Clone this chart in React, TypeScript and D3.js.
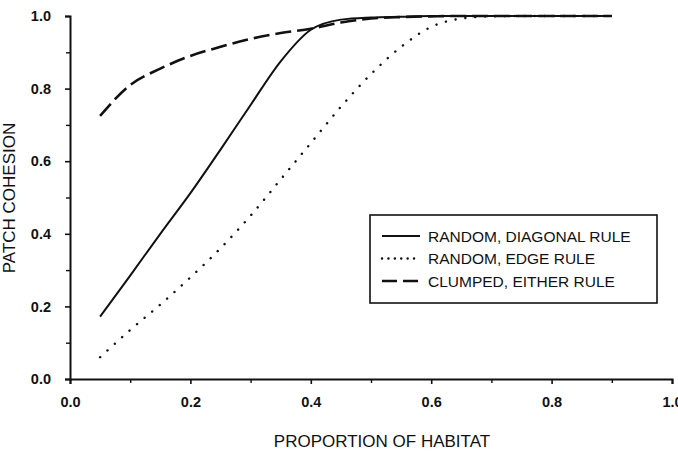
import React, { useEffect, useRef } from "react";
import {
  scaleLinear,
  line,
  curveMonotoneX,
  axisBottom,
  axisLeft,
  format,
  select
} from "d3";

// proportion of habitat on the landscape
const proportion = [
  0.05, 0.1, 0.15, 0.2, 0.25, 0.3, 0.35, 0.4, 0.45,
  0.5, 0.55, 0.6, 0.65, 0.7, 0.75, 0.8, 0.85, 0.9
];

const randomDiagonal = [
  0.172, 0.285, 0.4, 0.512, 0.632, 0.755, 0.875, 0.962, 0.99,
  0.996, 0.998, 1.0, 1.0, 1.0, 1.0, 1.0, 1.0, 1.0
];

const randomEdge = [
  0.06, 0.135, 0.205, 0.28, 0.36, 0.45, 0.55, 0.65, 0.75,
  0.84, 0.915, 0.97, 0.993, 0.999, 1.0, 1.0, 1.0, 1.0
];

const clumpedEither = [
  0.725, 0.81, 0.855, 0.89, 0.915, 0.937, 0.953, 0.965, 0.982,
  0.993, 0.997, 0.999, 1.0, 1.0, 1.0, 1.0, 1.0, 1.0
];

const majorTicks = [0, 0.2, 0.4, 0.6, 0.8, 1.0];
const minorTicks = [0.1, 0.3, 0.5, 0.7, 0.9];

const seriesNames = [
  "RANDOM, DIAGONAL RULE",
  "RANDOM, EDGE RULE",
  "CLUMPED, EITHER RULE"
];

const FONT = "'Liberation Sans', Arial, sans-serif";

export default function App() {
  const width = 678,
    height = 452;

  const xAxisRef = useRef(null);
  const yAxisRef = useRef(null);
  const xMinorRef = useRef(null);
  const yMinorRef = useRef(null);

  const xScale = scaleLinear().domain([0, 1]).range([70, 672]);
  const yScale = scaleLinear().domain([0, 1]).range([379, 16]);

  const series = [randomDiagonal, randomEdge, clumpedEither];
  const styles = [
    { width: 2, dash: null, cap: "butt" },
    { width: 2.4, dash: "0.1,9.8", cap: "round" },
    { width: 2.6, dash: "16,6", cap: "butt" }
  ];

  const pathFor = (values: number[]) =>
    line<number>()
      .x((_, i) => xScale(proportion[i]))
      .y(d => yScale(d))
      .curve(curveMonotoneX)(values);

  useEffect(() => {
    const fmt = format(".1f");

    const xAxis = axisBottom(xScale)
      .tickValues(majorTicks)
      .tickFormat(d => fmt(d as number))
      .tickSize(5)
      .tickPadding(13);
    const yAxis = axisLeft(yScale)
      .tickValues(majorTicks)
      .tickFormat(d => fmt(d as number))
      .tickSize(5)
      .tickPadding(14);

    const styleAxis = (g: any) => {
      g.select(".domain").attr("stroke", "#111").attr("stroke-width", 2);
      g.selectAll(".tick line").attr("stroke", "#111").attr("stroke-width", 1.6);
      g.selectAll(".tick text")
        .attr("fill", "#111")
        .style("font-family", FONT)
        .style("font-size", "14.5px")
        .style("font-weight", "bold");
    };

    select(xAxisRef.current).call(xAxis).call(styleAxis);
    select(yAxisRef.current).call(yAxis).call(styleAxis);

    select(xMinorRef.current)
      .call(axisBottom(xScale).tickValues(minorTicks).tickSize(4).tickFormat(() => ""))
      .call((g: any) => {
        g.select(".domain").remove();
        g.selectAll(".tick line").attr("stroke", "#111").attr("stroke-width", 1.4);
      });
    select(yMinorRef.current)
      .call(axisLeft(yScale).tickValues(minorTicks).tickSize(4).tickFormat(() => ""))
      .call((g: any) => {
        g.select(".domain").remove();
        g.selectAll(".tick line").attr("stroke", "#111").attr("stroke-width", 1.4);
      });
  }, []);

  return (
    <svg
      width={width}
      height={height}
      style={{ position: "absolute", left: 0, top: 0, background: "#fff" }}
    >
      <g ref={xAxisRef} transform={`translate(0, ${yScale(0)})`} />
      <g ref={xMinorRef} transform={`translate(0, ${yScale(0)})`} />
      <g ref={yAxisRef} transform={`translate(${xScale(0)}, 0)`} />
      <g ref={yMinorRef} transform={`translate(${xScale(0)}, 0)`} />

      {series.map((values, i) => (
        <path
          key={seriesNames[i]}
          d={pathFor(values) || ""}
          fill="none"
          stroke="#111"
          strokeWidth={styles[i].width}
          strokeDasharray={styles[i].dash || undefined}
          strokeLinecap={styles[i].cap as any}
        />
      ))}

      <g>
        <rect
          x={370}
          y={215}
          width={287}
          height={88}
          fill="#fff"
          stroke="#111"
          strokeWidth={1.6}
        />
        {seriesNames.map((name, i) => (
          <g key={name} transform={`translate(382, ${236 + i * 22.5})`}>
            <line
              x1={0}
              x2={38}
              y1={0}
              y2={0}
              stroke="#111"
              strokeWidth={styles[i].width}
              strokeDasharray={
                i === 1 ? "0.1,6.3" : i === 2 ? "15,6" : undefined
              }
              strokeLinecap={styles[i].cap as any}
            />
            <text
              x={46}
              y={5.5}
              fill="#111"
              style={{ fontFamily: FONT, fontSize: "15.5px" }}
            >
              {name}
            </text>
          </g>
        ))}
      </g>

      <text
        x={382}
        y={447}
        textAnchor="middle"
        fill="#111"
        style={{ fontFamily: FONT, fontSize: "17px" }}
      >
        PROPORTION OF HABITAT
      </text>
      <text
        transform={`translate(15, 198) rotate(-90)`}
        textAnchor="middle"
        fill="#111"
        style={{ fontFamily: FONT, fontSize: "17px" }}
      >
        PATCH COHESION
      </text>
    </svg>
  );
}
